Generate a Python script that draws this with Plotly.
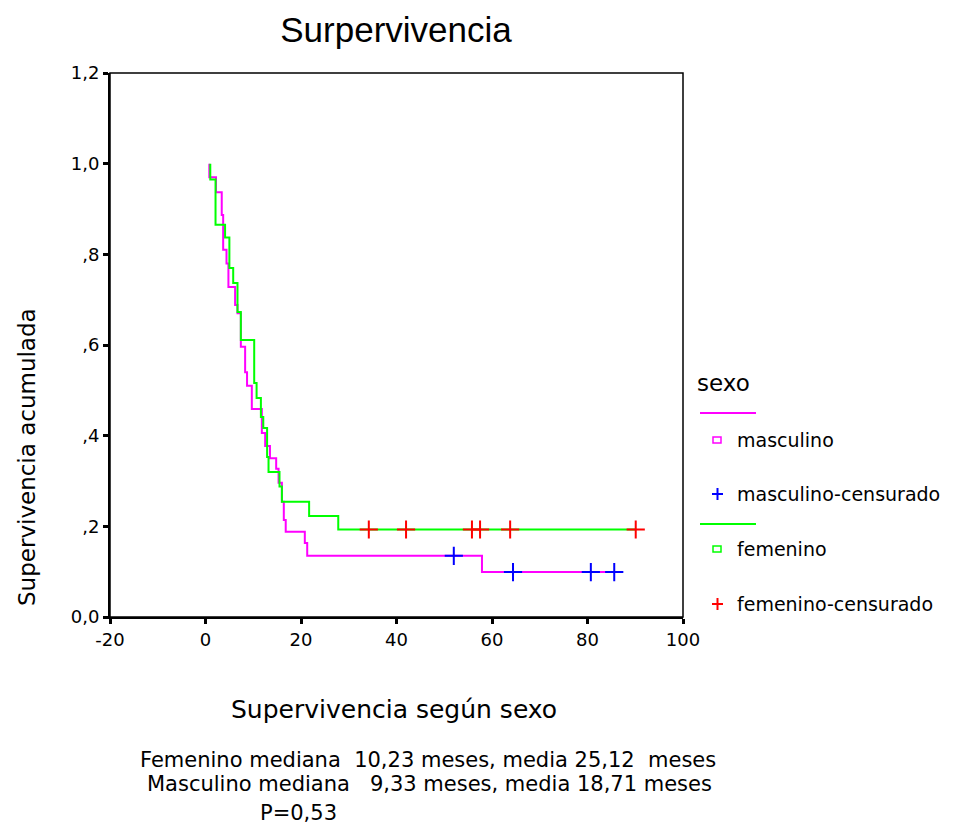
import plotly.graph_objects as go

# ---------------- data ----------------
masc_t = [0.8, 0.8, 2.2, 3.4, 3.7, 4.4, 4.8, 6.2, 6.7, 7.4, 8.3, 8.7, 9.7, 11.8, 12.5, 13.5,
          14.8, 15.3, 16.0, 16.4, 16.8, 20.8, 21.3, 57.9, 85.6]
masc_s = [1.0, 0.97, 0.937, 0.887, 0.81, 0.78, 0.728, 0.688, 0.67, 0.596, 0.54, 0.51, 0.459,
          0.406, 0.377, 0.35, 0.327, 0.296, 0.254, 0.214, 0.188, 0.163, 0.135, 0.099, 0.099]

fem_t = [1.0, 1.0, 2.1, 4.1, 5.0, 5.8, 6.7, 7.4, 10.2, 10.7, 11.6, 12.1, 12.9, 13.2, 15.5,
         16.0, 21.7, 27.8, 90.1]
fem_s = [1.0, 0.965, 0.865, 0.837, 0.77, 0.737, 0.673, 0.611, 0.516, 0.483, 0.441, 0.417,
         0.353, 0.32, 0.288, 0.254, 0.223, 0.193, 0.193]

masc_cens_t = [52.0, 64.4, 80.7, 85.6]
masc_cens_s = [0.135, 0.099, 0.099, 0.099]
fem_cens_t = [34.2, 42.0, 55.8, 57.5, 63.8, 90.1]
fem_cens_s = [0.193, 0.193, 0.193, 0.193, 0.193, 0.193]

y_tickvals = [0, 0.2, 0.4, 0.6, 0.8, 1.0, 1.2]
y_ticktext = ["0,0", ",2", ",4", ",6", ",8", "1,0", "1,2"]
x_tickvals = [-20, 0, 20, 40, 60, 80, 100]
x_ticktext = ["-20", "0", "20", "40", "60", "80", "100"]

MAG, GRN, BLU, RED = "#FF00FF", "#00FF00", "#0000FF", "#FF0000"
OFF = 8  # page body margin
W, H = 965 - OFF, 829 - OFF
L, T = 110 - OFF, 73 - OFF
PW, PH = 573, 544
R, B = W - L - PW, H - T - PH


def px(x):
    # screen pixel x -> paper coordinate
    return (x - OFF - L) / PW


def py(y):
    # screen pixel y -> paper coordinate
    return (T + PH - (y - OFF)) / PH


FONT = "DejaVu Sans"

fig = go.Figure()
fig.add_trace(go.Scatter(x=masc_t, y=masc_s, mode="lines", line=dict(color=MAG, width=2, shape="hv"),
                         showlegend=False))
fig.add_trace(go.Scatter(x=fem_t, y=fem_s, mode="lines", line=dict(color=GRN, width=2, shape="hv"),
                         showlegend=False))
fig.add_trace(go.Scatter(x=masc_cens_t, y=masc_cens_s, mode="markers",
                         marker=dict(symbol="cross-thin", size=13, line=dict(color=BLU, width=2)),
                         showlegend=False))
fig.add_trace(go.Scatter(x=fem_cens_t, y=fem_cens_s, mode="markers",
                         marker=dict(symbol="cross-thin", size=13, line=dict(color=RED, width=2)),
                         showlegend=False))

shapes = [
    dict(type="rect", xref="paper", yref="paper", x0=0, x1=1, y0=0, y1=1,
         line=dict(color="black", width=1.5)),
]
annotations = []

annotations.append(dict(text="sexo", xref="paper", yref="paper", x=px(695), y=py(383),
                        xanchor="left", yanchor="middle", showarrow=False,
                        font=dict(family=FONT, size=23, color="black")))
leg_rows = [
    ("line", MAG, 413, None),
    ("square", MAG, 440, "masculino"),
    ("plus", BLU, 494, "masculino-censurado"),
    ("line", GRN, 524, None),
    ("square", GRN, 549, "femenino"),
    ("plus", RED, 604, "femenino-censurado"),
]
for kind, col, yy, txt in leg_rows:
    if kind == "line":
        shapes.append(dict(type="line", xref="paper", yref="paper", x0=px(700), x1=px(756),
                           y0=py(yy), y1=py(yy), line=dict(color=col, width=2)))
    elif kind == "square":
        shapes.append(dict(type="rect", xref="paper", yref="paper", x0=px(713), x1=px(721),
                           y0=py(yy + 3), y1=py(yy - 3), line=dict(color=col, width=1.5)))
    else:
        shapes.append(dict(type="line", xref="paper", yref="paper", x0=px(712), x1=px(723),
                           y0=py(yy), y1=py(yy), line=dict(color=col, width=2)))
        shapes.append(dict(type="line", xref="paper", yref="paper", x0=px(717.5), x1=px(717.5),
                           y0=py(yy - 6), y1=py(yy + 6), line=dict(color=col, width=2)))
    if txt:
        annotations.append(dict(text=txt, xref="paper", yref="paper", x=px(735), y=py(yy),
                                xanchor="left", yanchor="middle", showarrow=False,
                                font=dict(family=FONT, size=19, color="black")))

annotations.append(dict(text="Supervivencia acumulada", xref="paper", yref="paper",
                        x=px(27), y=py(457), textangle=-90, showarrow=False,
                        xanchor="center", yanchor="middle",
                        font=dict(family=FONT, size=23, color="black")))
annotations.append(dict(text="Supervivencia según sexo", xref="paper", yref="paper",
                        x=px(394), y=py(709), showarrow=False, xanchor="center", yanchor="middle",
                        font=dict(family=FONT, size=25, color="black")))
nb = "\u00a0"
annotations.append(dict(text=f"Femenino mediana{nb}{nb}10,23 meses, media 25,12{nb}{nb}meses",
                        xref="paper", yref="paper", x=px(428), y=py(760), showarrow=False,
                        xanchor="center", yanchor="middle",
                        font=dict(family=FONT, size=21, color="black")))
annotations.append(dict(text=f"Masculino mediana{nb}{nb}{nb}9,33 meses, media 18,71 meses",
                        xref="paper", yref="paper", x=px(429), y=py(784), showarrow=False,
                        xanchor="center", yanchor="middle",
                        font=dict(family=FONT, size=21, color="black")))
annotations.append(dict(text="P=0,53", xref="paper", yref="paper", x=px(298), y=py(813),
                        showarrow=False, xanchor="center", yanchor="middle",
                        font=dict(family=FONT, size=21, color="black")))

fig.update_layout(
    width=W, height=H,
    margin=dict(l=L, r=R, t=T, b=B),
    paper_bgcolor="white", plot_bgcolor="white",
    title=dict(text="Surpervivencia", x=px(396), xref="paper", xanchor="center",
               y=1, yref="container", yanchor="top", pad=dict(t=9, b=0),
               font=dict(family="Liberation Sans", size=35, color="black")),
    shapes=shapes, annotations=annotations, showlegend=False,
)
fig.update_xaxes(range=[-20, 100], tickvals=x_tickvals, ticktext=x_ticktext,
                 showgrid=False, zeroline=False, showline=True, linecolor="black", linewidth=2,
                 ticks="outside", ticklen=5, tickwidth=3, tickcolor="black",
                 tickfont=dict(family=FONT, size=18, color="black"))
fig.update_yaxes(range=[0, 1.2], tickvals=y_tickvals, ticktext=y_ticktext,
                 showgrid=False, zeroline=False, showline=True, linecolor="black", linewidth=2,
                 ticks="outside", ticklen=5, tickwidth=3, tickcolor="black",
                 tickfont=dict(family=FONT, size=18, color="black"))

fig.write_html("out.html")
